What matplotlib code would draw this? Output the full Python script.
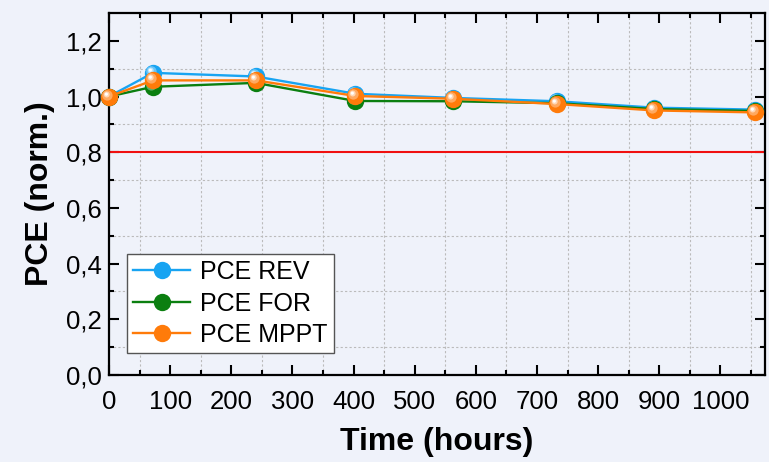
import numpy as np
import matplotlib
matplotlib.use("Agg")
import matplotlib.pyplot as plt
from matplotlib.path import Path
from matplotlib.ticker import MultipleLocator, FixedLocator, FuncFormatter

plt.rcParams['font.family'] = ['Liberation Sans', 'DejaVu Sans']

# data
hours = [0, 72, 240, 403, 563, 733, 892, 1057]
pce_rev = [1.000, 1.085, 1.072, 1.010, 0.995, 0.983, 0.960, 0.953]
pce_for = [1.000, 1.035, 1.049, 0.984, 0.983, 0.976, 0.955, 0.948]
pce_mppt = [1.000, 1.058, 1.058, 1.002, 0.992, 0.973, 0.950, 0.943]
series_names = ["PCE REV", "PCE FOR", "PCE MPPT"]
series_colors = ["#18A4F2", "#0B7F10", "#FF7B0A"]
threshold = 0.8

bg = "#EFF2FA"


def lighten(c, f):
    rgb = np.array(matplotlib.colors.to_rgb(c))
    return tuple(rgb + (1 - rgb) * f)


def ball_part(cx, cy, r):
    # off-centre circle marker; returns path and the size factor
    circ = Path.circle((cx, cy), r)
    m = np.max(np.abs(circ.vertices))
    return circ, 2 * m


MS = 12.5  # ball diameter in points


def draw_balls(ax, x, y, color, label=None):
    line, = ax.plot(x, y, color=color, lw=1.7, marker='o', ms=MS,
                    mfc=color, mec=color, mew=0, clip_on=False, zorder=3,
                    label=label)
    layers = [(-0.12, 0.12, 0.30, 0.35), (-0.16, 0.17, 0.17, 0.7),
              (-0.18, 0.19, 0.09, 1.0)]
    for cx, cy, r, f in layers:
        p, k = ball_part(cx, cy, r)
        ax.plot(x, y, ls='none', marker=p, ms=MS * k, mfc=lighten(color, f),
                mew=0, clip_on=False, zorder=3)
    return line


fig = plt.figure(figsize=(7.69, 4.62), dpi=100, facecolor=bg)
ax = fig.add_axes([0.1417, 0.1883, 0.8531, 0.7836], facecolor=bg)

ax.axhline(threshold, color="#F01010", lw=1.5, zorder=2)
handles = []
for vals, name, col in zip([pce_rev, pce_for, pce_mppt], series_names, series_colors):
    handles.append(draw_balls(ax, hours, vals, col, name))

ax.set_xlim(0, 1073)
ax.set_ylim(0, 1.3)
ax.xaxis.set_major_locator(MultipleLocator(100))
ax.xaxis.set_minor_locator(FixedLocator(np.arange(50, 1073, 100)))
ax.yaxis.set_major_locator(MultipleLocator(0.2))
ax.yaxis.set_minor_locator(FixedLocator(np.arange(0.1, 1.3, 0.2)))
ax.yaxis.set_major_formatter(FuncFormatter(lambda v, p: f"{v:.1f}".replace('.', ',')))
ax.grid(which='minor', color="#BBBBBB", ls=(0, (2, 2)), lw=0.8)
ax.tick_params(which='both', direction='in', top=True, right=True,
               labelsize=18.5, width=1.5)
ax.tick_params(axis='x', pad=11)
ax.tick_params(axis='y', pad=5)
ax.tick_params(which='major', length=7)
ax.tick_params(which='minor', length=3.5)
for s in ax.spines.values():
    s.set_linewidth(1.6)

ax.set_xlabel("Time (hours)", fontsize=23, fontweight='bold', labelpad=9)
ax.set_ylabel("PCE (norm.)", fontsize=23, fontweight='bold', labelpad=8)

leg = ax.legend(handles=handles, loc='lower left', bbox_to_anchor=(0.027, 0.06),
                fontsize=18, frameon=True, fancybox=False, framealpha=1,
                edgecolor="#555555", handlelength=2.3, labelspacing=0.3,
                borderpad=0.25, handletextpad=0.4, borderaxespad=0)
leg.get_frame().set_linewidth(1.0)

fig.savefig("out.png", dpi=100, facecolor=bg)
